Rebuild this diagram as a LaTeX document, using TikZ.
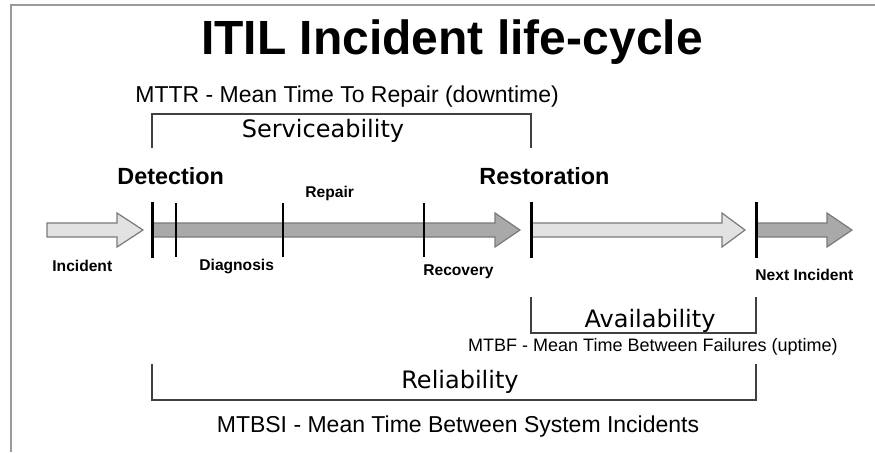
\documentclass[tikz,border=0pt]{standalone}
\usepackage{fontspec}
\setmainfont{Liberation Sans}
\newfontfamily\handfont{DejaVu Sans}
\usepackage{tikz}
\usetikzlibrary{positioning}
\definecolor{lightbar}{HTML}{E2E2E2}
\definecolor{darkbar}{HTML}{A9A9A9}
\definecolor{barline}{HTML}{7A7A7A}
\definecolor{framegray}{HTML}{9A9A9A}
\tikzset{
  phase/.style={font=\bfseries\fontsize{11.7}{14}\selectfont, anchor=west},
  event/.style={font=\bfseries\fontsize{7.8}{9}\selectfont, anchor=west},
  measure/.style={font=\fontsize{11.5}{14}\selectfont},
  quality/.style={font=\handfont\fontsize{12}{14}\selectfont},
  bracket/.style={line width=0.75pt, black!75},
}

\begin{document}
\begin{tikzpicture}[x=0.5pt, y=-0.5pt, every node/.style={inner sep=0pt}]
    \useasboundingbox (0,0) rectangle (875,452);

    % Frame
    \draw[framegray, line width=1pt] (11,452) -- (11,5) -- (875,5);

    % Title
    \node[font=\bfseries\fontsize{24}{28}\selectfont] (title) at (452,42) {ITIL Incident life-cycle};

    % MTTR and serviceability
    \node[measure, anchor=west] (mttr) at (135,97) {MTTR - Mean Time To Repair (downtime)};
    \draw[bracket] (152,148) -- (152,114) -- (531,114) -- (531,148);
    \node[quality] (serv) at (323,131) {Serviceability};

    % Time line arrows
    \foreach \a/\b/\c/\col in {47/117/143/lightbar, 152/495/520/darkbar, 531/722/745/lightbar, 756/827/852/darkbar} {
        \filldraw[fill=\col, draw=barline, line width=0.6pt]
            (\a,223) -- (\b,223) -- (\b,213) -- (\c,230) -- (\b,247) -- (\b,237) -- (\a,237) -- cycle;
    }

    % Marks on the time line
    \foreach \x in {152,531,756} {
        \draw[line width=1.5pt] (\x,202) -- (\x,258);
    }
    \foreach \x in {176,283,424} {
        \draw[line width=0.75pt] (\x,203) -- (\x,257);
    }

    % Phase labels
    \node[phase] (detection) at (117,176) {Detection};
    \node[phase] (restoration) at (479,176) {Restoration};
    \node[event] (repair) at (305,193) {Repair};
    \node[event] (incident) at (52,266) {Incident};
    \node[event] (diagnosis) at (199,266) {Diagnosis};
    \node[event, anchor=east] (recovery) at (494,272) {Recovery};
    \node[event] (next) at (755,275) {Next Incident};

    % Availability and MTBF
    \draw[bracket] (531,297) -- (531,333) -- (756,333) -- (756,297);
    \node[quality] (avail) at (650,321) {Availability};
    \node[font=\fontsize{9}{11}\selectfont, anchor=east] (mtbf) at (838,347) {MTBF - Mean Time Between Failures (uptime)};

    % Reliability and MTBSI
    \draw[bracket] (152,364) -- (152,400) -- (756,400) -- (756,364);
    \node[quality] (rel) at (460,382) {Reliability};
    \node[measure] (mtbsi) at (458,427) {MTBSI - Mean Time Between System Incidents};
\end{tikzpicture}
\end{document}
